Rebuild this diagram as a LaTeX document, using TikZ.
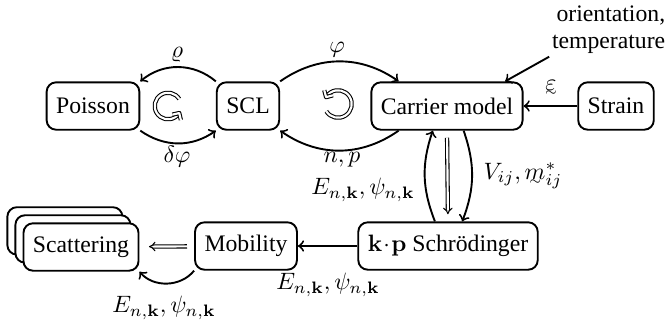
\documentclass[tikz,border=0pt]{standalone}
\usepackage[no-math]{fontspec}
\setmainfont{Liberation Serif}
\usepackage{amsmath}
\usetikzlibrary{shadows,arrows.meta}
\newcommand{\utl}[1]{\mathord{\vtop{\offinterlineskip\halign{\hfil##\hfil\cr$#1$\cr\noalign{\kern0.3pt}$\scriptscriptstyle\sim$\cr}}}}
\begin{document}
\begin{tikzpicture}[x=0.422pt,y=0.422pt,>=to,
  box/.style={draw, thick, rounded corners=4pt, minimum height=20pt, inner xsep=4pt, inner ysep=2pt, fill=white},
  conn/.style={->, thick},
  dbl/.style={double, line width=0.45pt, double distance=0.9pt, -{Implies}},
  loopy/.style={double, line width=0.45pt, double distance=0.9pt, line join=round},
  lbl/.style={inner sep=1pt}]
\useasboundingbox (0,0) rectangle (669,-325);
% nodes
\node[box] (Poisson) at (93,-106) {Poisson};
\node[box] (SCL) at (248,-106) {SCL};
\node[box] (Carrier) at (447,-106) {Carrier model};
\node[box] (Strain) at (616,-106) {Strain};
\node[box] (kp) at (448,-246) {$\mathbf{k}\!\cdot\!\mathbf{p}$ Schrödinger};
\node[box] (Mobility) at (246,-246) {Mobility};
\node[box, double copy shadow={shadow xshift=-3.4pt, shadow yshift=3.4pt, fill=white, draw=black, thick}] (Scattering) at (81,-247) {Scattering};
\node[align=right, anchor=east, inner sep=1pt, font=\linespread{0.95}\selectfont] (orient) at (668,-30) {orientation,\\temperature};
% loops
\coordinate (cl) at (168,-106);
\coordinate (cr) at (338,-104);
\coordinate (clend) at ([shift={(328:5.6pt)}]cl);
\coordinate (crend) at ([shift={(150:5.8pt)}]cr);
\draw[loopy] ([shift={(32:5.6pt)}]cl) arc[start angle=32, end angle=328, radius=5.6pt];
\draw[loopy] ([shift={(193:3pt)}]clend) -- (clend) -- ([shift={(283:3pt)}]clend);
\draw[loopy] ([shift={(212:5.8pt)}]cr) arc[start angle=212, end angle=510, radius=5.8pt];
\draw[loopy] ([shift={(15:3pt)}]crend) -- (crend) -- ([shift={(105:3pt)}]crend);
% connectors
\draw[conn] (SCL.north west) to[bend right=40] (Poisson.north east);
\draw[conn] (Poisson.south east) to[bend right=35] (SCL.south west);
\draw[conn] (SCL.north east) to[bend left=35] (Carrier.153);
\draw[conn] (Carrier.207) to[bend left=35] (SCL.south east);
\draw[conn] (Strain) -- (Carrier);
\draw[conn] (orient.south west) -- (Carrier.23);
\draw[conn] (kp.118) to[bend left=20] (Carrier.240);
\draw[dbl, shorten <=3pt, shorten >=3pt] (Carrier.south) -- (kp.north);
\draw[conn] (Carrier.304) to[bend left=20] (kp.60);
\draw[conn] (kp) -- (Mobility);
\draw[dbl, shorten <=3pt, shorten >=4pt] (Mobility) -- (Scattering);
\draw[conn] (Mobility.south west) to[bend left=50] (Scattering.south east);
% labels
\node[lbl] (lrho) at (177,-55) {$\varrho$};
\node[lbl] (ldphi) at (177,-157) {$\delta\varphi$};
\node[lbl] (lphi) at (337,-50) {$\varphi$};
\node[lbl] (lnp) at (342,-160) {$n,p$};
\node[lbl] (leps) at (551,-88) {$\utl{\varepsilon}$};
\node[lbl] (lE1) at (363,-190) {$E_{n,\mathbf{k}},\psi_{n,\mathbf{k}}$};
\node[lbl] (lV) at (523,-176) {$V_{ij},\utl{m}^*_{ij}$};
\node[lbl] (lE2) at (328,-285) {$E_{n,\mathbf{k}},\psi_{n,\mathbf{k}}$};
\node[lbl] (lE3) at (164,-308) {$E_{n,\mathbf{k}},\psi_{n,\mathbf{k}}$};
\end{tikzpicture}
\end{document}
